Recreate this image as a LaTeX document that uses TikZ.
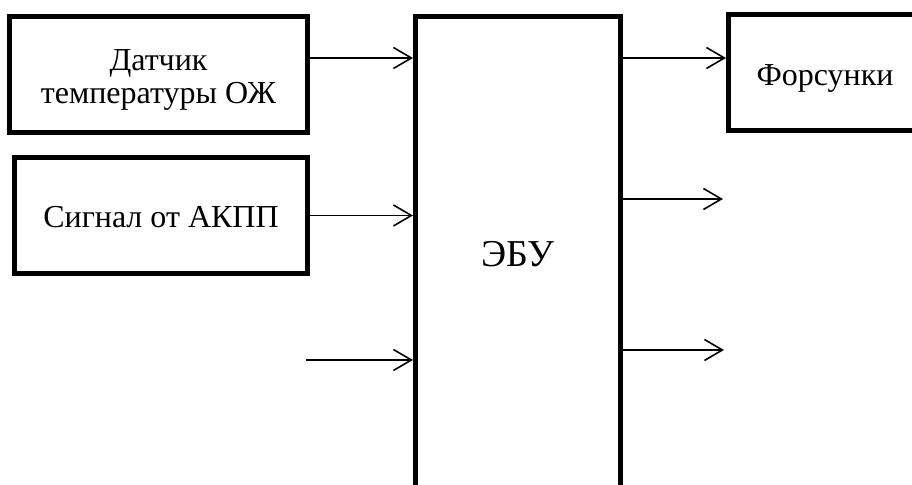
\documentclass[tikz,border=0pt]{standalone}
\usepackage{fontspec}
\setmainfont{Liberation Serif}
\usetikzlibrary{arrows.meta}

\begin{document}
\begin{tikzpicture}[x=0.5pt,y=-0.5pt,
    blok/.style={draw,line width=2.5pt,align=center,inner sep=0pt,
      font=\fontsize{16}{16.5}\selectfont,text height=12.4pt,text depth=0pt},
    strelka/.style={->,line width=0.8pt},
    >={Straight Barb[length=9pt,width=10.5pt]}]
      \useasboundingbox (0,0) rectangle (912,485);

      \node[blok,minimum width=149pt,minimum height=58pt,
        text height=29.5pt] (1) at (158.5,74.5) {Датчик\\температуры ОЖ};
      \node[blok,minimum width=146.5pt,minimum height=58pt] (2) at (161,215.5) {Сигнал от АКПП};
      \node[blok,minimum width=102.5pt,minimum height=237.5pt,
        font=\fontsize{19}{22}\selectfont,text height=13pt] (3) at (518,254) {ЭБУ};
      \node[blok,minimum width=96.5pt,minimum height=57.75pt] (4) at (825,72.75) {Форсунки};

      \coordinate (5) at (306,360);
      \coordinate (6) at (723,199);
      \coordinate (7) at (724,350);

      \draw[strelka] (1.east |- 0,58) -- (3.west |- 0,58);
      \draw[strelka] (2.east) -- (3.west |- 2.east);
      \draw[strelka] (5) -- (3.west |- 5);
      \draw[strelka] (3.east |- 0,58) -- (4.west |- 0,58);
      \draw[strelka] (3.east |- 6) -- (6);
      \draw[strelka] (3.east |- 7) -- (7);
    \end{tikzpicture}
\end{document}
